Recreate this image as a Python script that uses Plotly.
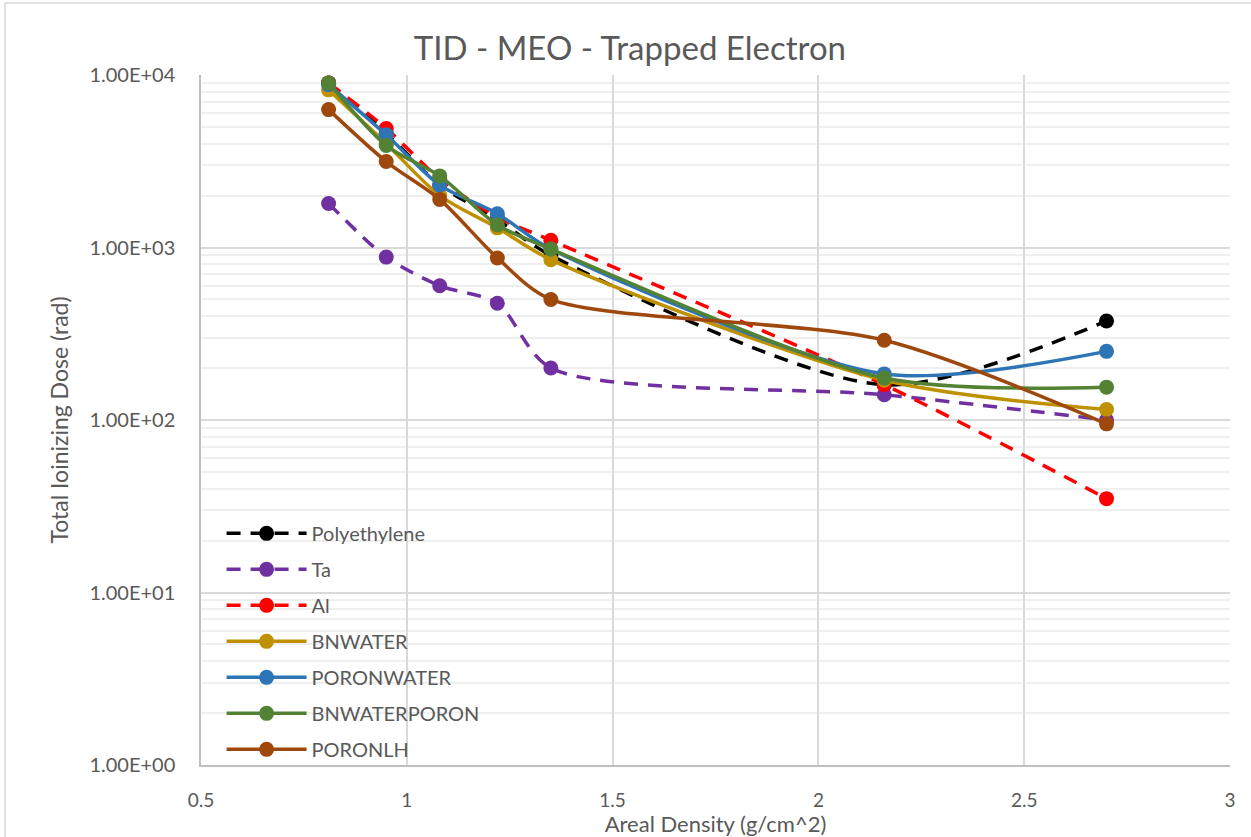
import plotly.graph_objects as go

# Areal density (g/cm^2) for each shielding thickness
areal_density = [0.81, 0.95, 1.08, 1.22, 1.35, 2.16, 2.7]

# Total ionizing dose (rad) per material
polyethylene = [9000, 4600, 2300, 1450, 900, 160, 375]
ta = [1800, 880, 600, 475, 200, 140, 100]
al = [9000, 4900, 2500, 1500, 1100, 160, 35]
bnwater = [8200, 4000, 2000, 1300, 850, 170, 115]
poronwater = [8800, 4500, 2300, 1570, 980, 185, 250]
bnwaterporon = [9000, 3900, 2600, 1350, 980, 175, 155]
poronlh = [6300, 3150, 1900, 870, 500, 290, 95]

y_tick_vals = [1, 10, 100, 1000, 10000]
y_tick_text = ["1.00E+00", "1.00E+01", "1.00E+02", "1.00E+03", "1.00E+04"]
x_tick_vals = [0.5, 1, 1.5, 2, 2.5, 3]
x_tick_text = ["0.5", "1", "1.5", "2", "2.5", "3"]

series = [
    ("Polyethylene", polyethylene, "#000000", "14px,10px"),
    ("Ta", ta, "#7030A0", "14px,10px"),
    ("Al", al, "#FF0000", "14px,10px"),
    ("BNWATER", bnwater, "#BF9000", "solid"),
    ("PORONWATER", poronwater, "#2E75B6", "solid"),
    ("BNWATERPORON", bnwaterporon, "#548235", "solid"),
    ("PORONLH", poronlh, "#9E480E", "solid"),
]

FONT = "Lato, 'Open Sans', sans-serif"
GREY = "#595959"

fig = go.Figure()
for name, vals, color, dash in series:
    fig.add_trace(go.Scatter(
        x=areal_density, y=vals, name=name, legendgroup=name, mode="lines+markers",
        line=dict(color=color, width=3.5, dash=dash, shape="spline", smoothing=0.8),
        marker=dict(color=color, size=15),
    ))

minor_vals = [m * 10 ** d for d in range(0, 4) for m in range(2, 10)]

fig.update_layout(
    width=1251, height=837,
    margin=dict(l=201, r=21, t=75, b=72),
    paper_bgcolor="white", plot_bgcolor="white",
    font=dict(family=FONT, color=GREY, size=20),
    title=dict(text="TID - MEO - Trapped Electron", x=0.5035, xanchor="center",
               y=0.942, yanchor="middle", font=dict(size=33, color=GREY, family=FONT)),
    showlegend=True,
    legend=dict(x=0.02, y=0.364, xanchor="left", yanchor="top",
                bgcolor="rgba(0,0,0,0)", font=dict(size=20, color=GREY),
                itemwidth=80, tracegroupgap=7),
    xaxis=dict(range=[0.5, 3], tickvals=x_tick_vals, ticktext=x_tick_text,
               showgrid=True, gridcolor="#d9d9d9", gridwidth=1.5,
               showline=True, linecolor="#bfbfbf", linewidth=1.5,
               zeroline=False, ticks="", tickfont=dict(size=19, color=GREY),
               ticklabelstandoff=17, automargin=False,
               title=dict(text="Areal Density (g/cm^2)", standoff=6,
                          font=dict(size=22, color=GREY))),
    yaxis=dict(type="log", range=[0, 4], tickvals=y_tick_vals, ticktext=y_tick_text,
               showgrid=True, gridcolor="#d9d9d9", gridwidth=1.5,
               showline=True, linecolor="#bfbfbf", linewidth=1.5,
               zeroline=False, ticks="", tickfont=dict(size=20, color=GREY),
               ticklabelstandoff=20, automargin=False,
               minor=dict(tickvals=minor_vals, showgrid=True, gridcolor="#efefef",
                          gridwidth=1.5),
               title=dict(text="Total Ioinizing Dose (rad)", standoff=14,
                          font=dict(size=23, color=GREY))),
)

# Chart-area frame along the top and left edges
fig.add_shape(type="rect", xref="paper", yref="paper",
              x0=-196 / 1029, x1=1.05, y0=-0.2, y1=1 + 72 / 690,
              line=dict(color="#d9d9d9", width=1.5), fillcolor="rgba(0,0,0,0)",
              layer="below")

fig.write_html("out.html")
